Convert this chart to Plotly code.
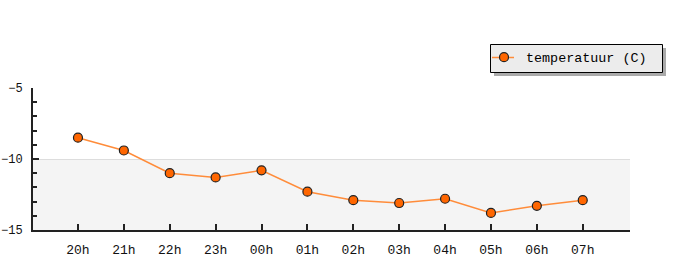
import plotly.graph_objects as go

hours = ["20h", "21h", "22h", "23h", "00h", "01h", "02h", "03h", "04h", "05h", "06h", "07h"]
temperatuur = [-8.5, -9.4, -11.0, -11.3, -10.8, -12.3, -12.9, -13.1, -12.8, -13.8, -13.3, -12.9]
y_ticks = [-5, -10, -15]
series_name = "temperatuur (C)"

W, H = 693, 278
L, R, T, B = 33, 63, 88, 48
pw, ph = W - L - R, H - T - B

def px(x):
    return (x - L) / pw

def py(y):
    return (H - B - y) / ph

FONT = "Liberation Mono"
LINE_C = "#ff8c3a"
MARKER = dict(color="#ff6600", size=9, line=dict(color="#222222", width=1.2))

fig = go.Figure()
fig.add_trace(go.Scatter(
    x=hours, y=temperatuur, mode="lines+markers", name=series_name, showlegend=False,
    line=dict(color=LINE_C, width=1.5), marker=MARKER,
))
# legend entry (marker only; its short line is drawn as a shape inside the box)
fig.add_trace(go.Scatter(x=[None], y=[None], mode="markers", name=series_name,
                         marker=MARKER, showlegend=True))

fig.add_shape(type="rect", xref="paper", yref="y", x0=0, x1=1, y0=-15, y1=-10,
              fillcolor="#f4f4f4", line=dict(width=0), layer="below")
# legend shadow, box and symbol line
fig.add_shape(type="rect", xref="paper", yref="paper",
              x0=px(494), x1=px(666), y0=py(76), y1=py(48),
              fillcolor="#aaaaaa", line=dict(width=0), layer="above")
fig.add_shape(type="rect", xref="paper", yref="paper",
              x0=px(490.5), x1=px(662.5), y0=py(72.5), y1=py(44.5),
              fillcolor="#ececec", line=dict(width=1, color="#000000"), layer="above")
fig.add_shape(type="line", xref="paper", yref="paper",
              x0=px(492), x1=px(514), y0=py(57.5), y1=py(57.5),
              line=dict(width=1.5, color=LINE_C), layer="above")

fig.update_layout(
    width=W, height=H, margin=dict(l=L, r=R, t=T, b=B),
    paper_bgcolor="white", plot_bgcolor="rgba(0,0,0,0)",
    font=dict(family=FONT, size=13, color="#111111"),
    showlegend=True,
    legend=dict(x=px(482), y=py(42), xanchor="left", yanchor="top",
                bgcolor="rgba(0,0,0,0)", borderwidth=0,
                itemwidth=34, tracegroupgap=0,
                font=dict(family=FONT, size=13.4, color="#000000")),
    xaxis=dict(type="category", range=[-0.98, 12.03], showgrid=False, automargin=False,
               showline=True, linecolor="#222222", linewidth=2,
               ticks="inside", ticklen=6, tickcolor="#222222", tickwidth=1.5,
               ticklabelstandoff=6,
               tickfont=dict(family=FONT, size=13), zeroline=False),
    yaxis=dict(range=[-15, -5], tickvals=y_ticks, showgrid=True, gridcolor="#dddddd",
               automargin=False,
               showline=True, linecolor="#222222", linewidth=2,
               ticks="inside", ticklen=6, tickcolor="#222222", tickwidth=1.5,
               ticklabelstandoff=6,
               minor=dict(ticks="inside", ticklen=4, dtick=1, tickcolor="#222222", showgrid=False),
               tickfont=dict(family=FONT, size=12), zeroline=False),
)
fig.write_html("out.html")
